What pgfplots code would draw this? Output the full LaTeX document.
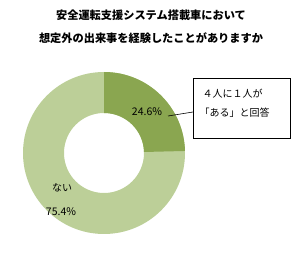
\documentclass[border=0pt]{standalone}
\usepackage{pgfplots}
\pgfplotsset{compat=1.18}
\usepackage{pgfplotstable}
\usepackage{fontspec}
\newfontfamily\cjk{Noto Sans CJK JP}
\definecolor{darkg}{RGB}{138,166,80}
\definecolor{lightg}{RGB}{188,207,152}
\pgfplotstableread{
label value
aru 24.6
nai 75.4
}\piedata
\begin{document}
\begin{tikzpicture}
\pgfplotstablegetelem{0}{value}\of\piedata \let\valA\pgfplotsretval
\pgfmathsetmacro\angA{90-3.6*\valA}
\pgfmathsetmacro\qAx{104+40*cos(\angA)}
\pgfmathsetmacro\qAy{112+40*sin(\angA)}
\begin{axis}[width=300pt,height=265pt,scale only axis,xmin=0,xmax=300,ymin=0,ymax=265,hide axis,clip=false,disabledatascaling]
\path (axis cs:0,0) rectangle (axis cs:300,265);
\fill[lightg,even odd rule] (axis cs:104,112) circle[radius=81pt] (axis cs:104,112) circle[radius=40pt];
\fill[darkg] (axis cs:104,193) arc[start angle=90,end angle=\angA,radius=81pt]
  -- (axis cs:\qAx,\qAy) arc[start angle=\angA,end angle=90,radius=40pt] -- cycle;
\node[font=\cjk\bfseries\fontsize{11.2}{13}\selectfont] at (axis cs:151,250) {安全運転支援システム搭載車において};
\node[font=\cjk\bfseries\fontsize{11.2}{13}\selectfont] at (axis cs:151,227) {想定外の出来事を経験したことがありますか};
\node[font=\cjk\fontsize{10.5}{12}\selectfont] at (axis cs:147,153) {24.6\%};
\node[font=\cjk\fontsize{10}{12}\selectfont] at (axis cs:62,77) {ない};
\node[font=\cjk\fontsize{10.5}{12}\selectfont] at (axis cs:61,53) {75.4\%};
\draw[black,line width=0.6pt] (axis cs:168,149) -- (axis cs:193,153);
\draw[black,line width=0.8pt,fill=white] (axis cs:193,127) rectangle (axis cs:290,187);
\node[font=\cjk\fontsize{10}{12}\selectfont,anchor=west] at (axis cs:199,171) {４人に１人が};
\node[font=\cjk\fontsize{10}{12}\selectfont,anchor=west] at (axis cs:196,152) {「ある」と回答};
\end{axis}
\end{tikzpicture}
\end{document}
